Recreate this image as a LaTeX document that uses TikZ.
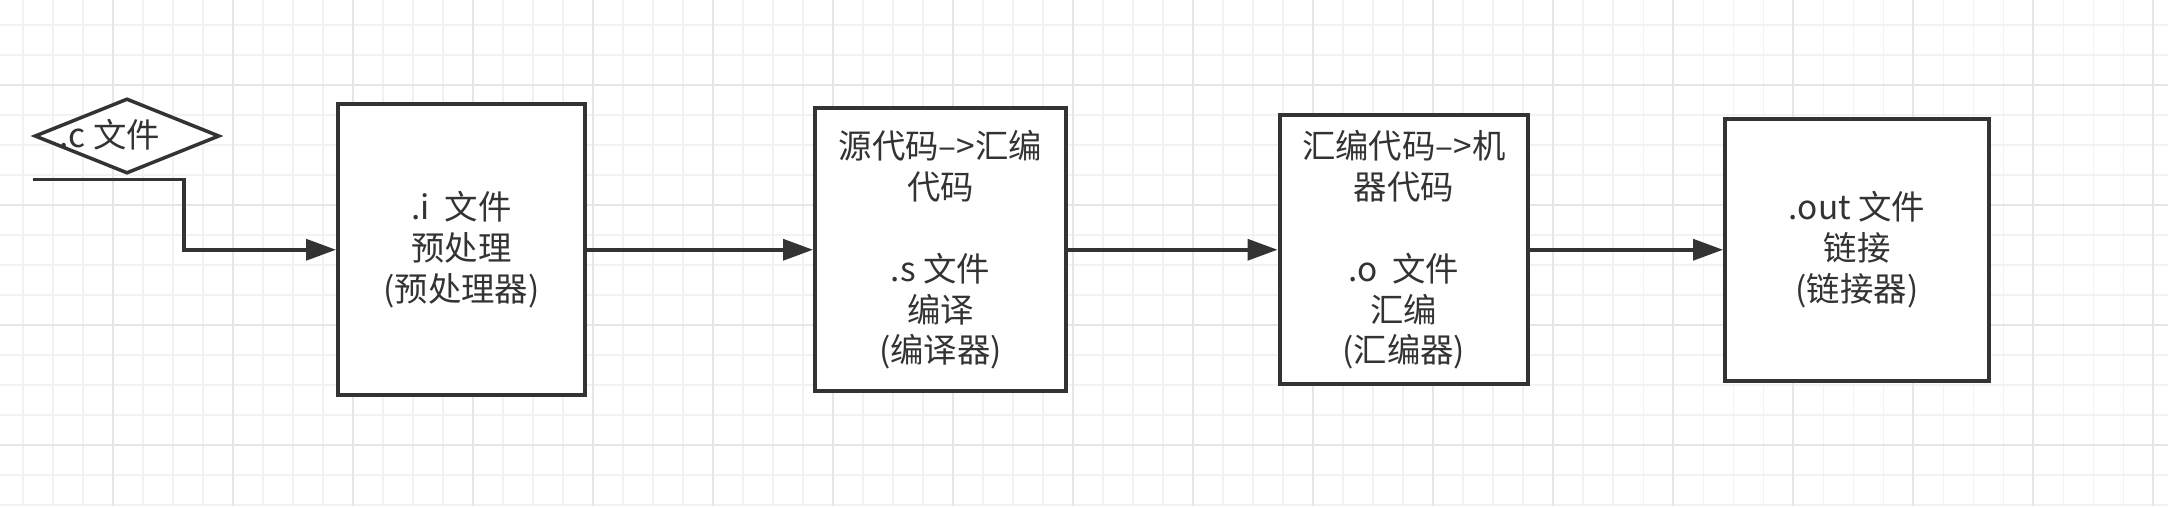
\documentclass[tikz,border=0pt]{standalone}
\usepackage{fontspec}
\setmainfont{Noto Sans CJK SC}
\usetikzlibrary{shapes.geometric,arrows.meta}
\definecolor{linegray}{HTML}{333333}
\definecolor{gridminor}{HTML}{F2F2F2}
\definecolor{gridmajor}{HTML}{E6E6E6}

\begin{document}
\begin{tikzpicture}[
	stage/.style={draw=linegray, line width=0.08cm, fill=white, align=center, inner sep=0pt, text=linegray, font=\fontsize{19}{23.3}\selectfont},
	cdiamond/.style={draw=linegray, line width=0.07cm, fill=white, shape=diamond, inner sep=0pt, minimum width=3.7cm, minimum height=1.5cm},
	flow/.style={draw=linegray, line width=0.07cm, -{Triangle[length=0.6cm,width=0.42cm]}},
	minorline/.style={draw=gridminor, line width=0.035cm},
	majorline/.style={draw=gridmajor, line width=0.035cm}
]

\useasboundingbox (0,0) rectangle (43.36,10.12);
\fill[white] (0,0) rectangle (43.36,10.12);

\foreach \i in {0,...,71}{
	\draw[minorline] ({0.4667+0.6*\i},0) -- ({0.4667+0.6*\i},10.12);
}
\foreach \j in {0,...,16}{
	\draw[minorline] (0,{9.62-0.6*\j}) -- (43.36,{9.62-0.6*\j});
}
\foreach \i in {0,...,17}{
	\draw[majorline] ({2.2667+2.4*\i},0) -- ({2.2667+2.4*\i},10.12);
}
\foreach \j in {0,...,3}{
	\draw[majorline] (0,{8.42-2.4*\j}) -- (43.36,{8.42-2.4*\j});
}

\node[cdiamond] (cfile) at (2.54,7.40) {};
\node[text=linegray, font=\fontsize{19}{23.3}\selectfont] (ctext) at (2.2,7.42) {.c 文件};
\coordinate (cstart) at (0.66,6.534);

\node[stage, minimum width=4.94cm, minimum height=5.82cm] (prep) at (9.23,5.125) {.i\ \ 文件\\预处理\\(预处理器)};
\node[stage, minimum width=5.02cm, minimum height=5.66cm] (comp) at (18.81,5.125) {源代码–>汇编\\代码\\\mbox{}\\.s 文件\\编译\\(编译器)};
\node[stage, minimum width=4.97cm, minimum height=5.38cm] (asm) at (28.075,5.125) {汇编代码–>机\\器代码\\\mbox{}\\.o\ \ 文件\\汇编\\(汇编器)};
\node[stage, minimum width=5.28cm, minimum height=5.23cm] (link) at (37.14,5.125) {.out 文件\\链接\\(链接器)};

\draw[flow] (cstart) -- ++(3.02,0) |- (prep.west);
\draw[flow] (prep.east) -- (comp.west);
\draw[flow] (comp.east) -- (asm.west);
\draw[flow] (asm.east) -- (link.west);
\end{tikzpicture}
\end{document}
